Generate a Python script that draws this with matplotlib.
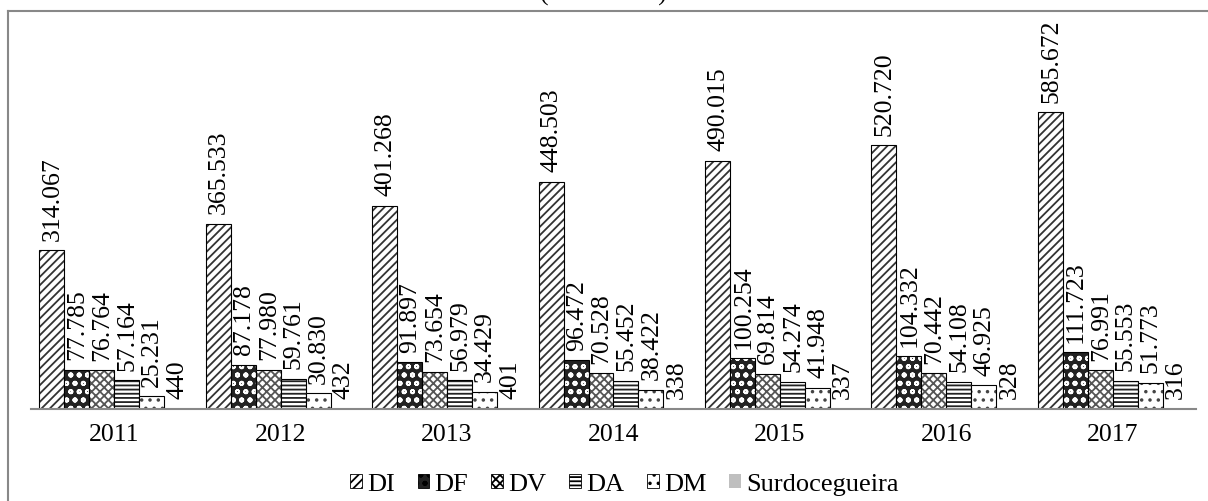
import numpy as np
import matplotlib.pyplot as plt
from matplotlib.patches import Patch
from matplotlib.lines import Line2D

years = ['2011', '2012', '2013', '2014', '2015', '2016', '2017']
series = ['DI', 'DF', 'DV', 'DA', 'DM', 'Surdocegueira']
di = [314067, 365533, 401268, 448503, 490015, 520720, 585672]
df = [77785, 87178, 91897, 96472, 100254, 104332, 111723]
dv = [76764, 77980, 73654, 70528, 69814, 70442, 76991]
da = [57164, 59761, 56979, 55452, 54274, 54108, 55553]
dm = [25231, 30830, 34429, 38422, 41948, 46925, 51773]
surdo = [440, 432, 401, 338, 337, 328, 316]

# fill, hatch, hatch colour
styles = [
	('white', '////', '#333333'),
	('#222222', 'oo', 'white'),
	('white', 'xxxx', '#555555'),
	('white', '----', '#222222'),
	('white', '..', '#444444'),
	('#bfbfbf', '', '#bfbfbf'),
]

plt.rcParams['font.family'] = ['Liberation Serif', 'DejaVu Serif']
plt.rcParams['hatch.linewidth'] = 1.3

fig = plt.figure(figsize=(12.08, 5.02), dpi=100)
ax = fig.add_axes([31/1208, 92/502, 1165/1208, 390/502])

data = [di, df, dv, da, dm, surdo]
x = np.arange(len(years))
w = 0.15

for i, vals in enumerate(data):
	fc, hatch, hc = styles[i]
	pos = x - 0.375 + i*w
	ax.bar(pos, vals, w, color=fc, hatch=hatch, edgecolor=hc, linewidth=0)
	if i < 5:
		ax.bar(pos, vals, w, fill=False, edgecolor='black', linewidth=0.8)
	for p, v in zip(pos, vals):
		ax.annotate(f'{v:,}'.replace(',', '.'), (p, v), xytext=(0.5, 7.5),
			textcoords='offset points', rotation=90, ha='center', va='bottom',
			fontsize=18.5)

ax.set_xlim(-0.5, len(years) - 0.5)
ax.set_ylim(0, 770000)
ax.set_xticks(x)
ax.set_xticklabels(years, fontsize=18.5)
ax.tick_params(axis='x', length=0, pad=10)
ax.set_yticks([])
for s in ['top', 'right', 'left']:
	ax.spines[s].set_visible(False)
ax.spines['bottom'].set_color('#888888')
ax.spines['bottom'].set_linewidth(1.5)

handles = []
for i in range(6):
	fc, hatch, hc = styles[i]
	handles.append(Patch(facecolor=fc, hatch=hatch, edgecolor=hc if i == 5 else 'black',
		linewidth=0.6 if i < 5 else 0))
fig.legend(handles, series, loc='center left', bbox_to_anchor=(350/1208, 1 - 485/502),
	ncol=6, frameon=False, fontsize=19, handlelength=0.45, handleheight=0.45,
	handletextpad=0.19, columnspacing=0.87, borderpad=0, borderaxespad=0)

# figure frame (only left and top edges show)
fig.add_artist(Line2D([8/1208, 8/1208], [0, 1 - 12/502], color='#888888', lw=1.5))
fig.add_artist(Line2D([8/1208, 1], [1 - 12/502, 1 - 12/502], color='#888888', lw=1.5))
# title cut off by the top edge, only the bracket tails show
fig.text(0.5, 1 - 1/502, '(2011-2017)', ha='center', va='baseline', fontsize=18.5)

fig.savefig('out.png', dpi=100)
